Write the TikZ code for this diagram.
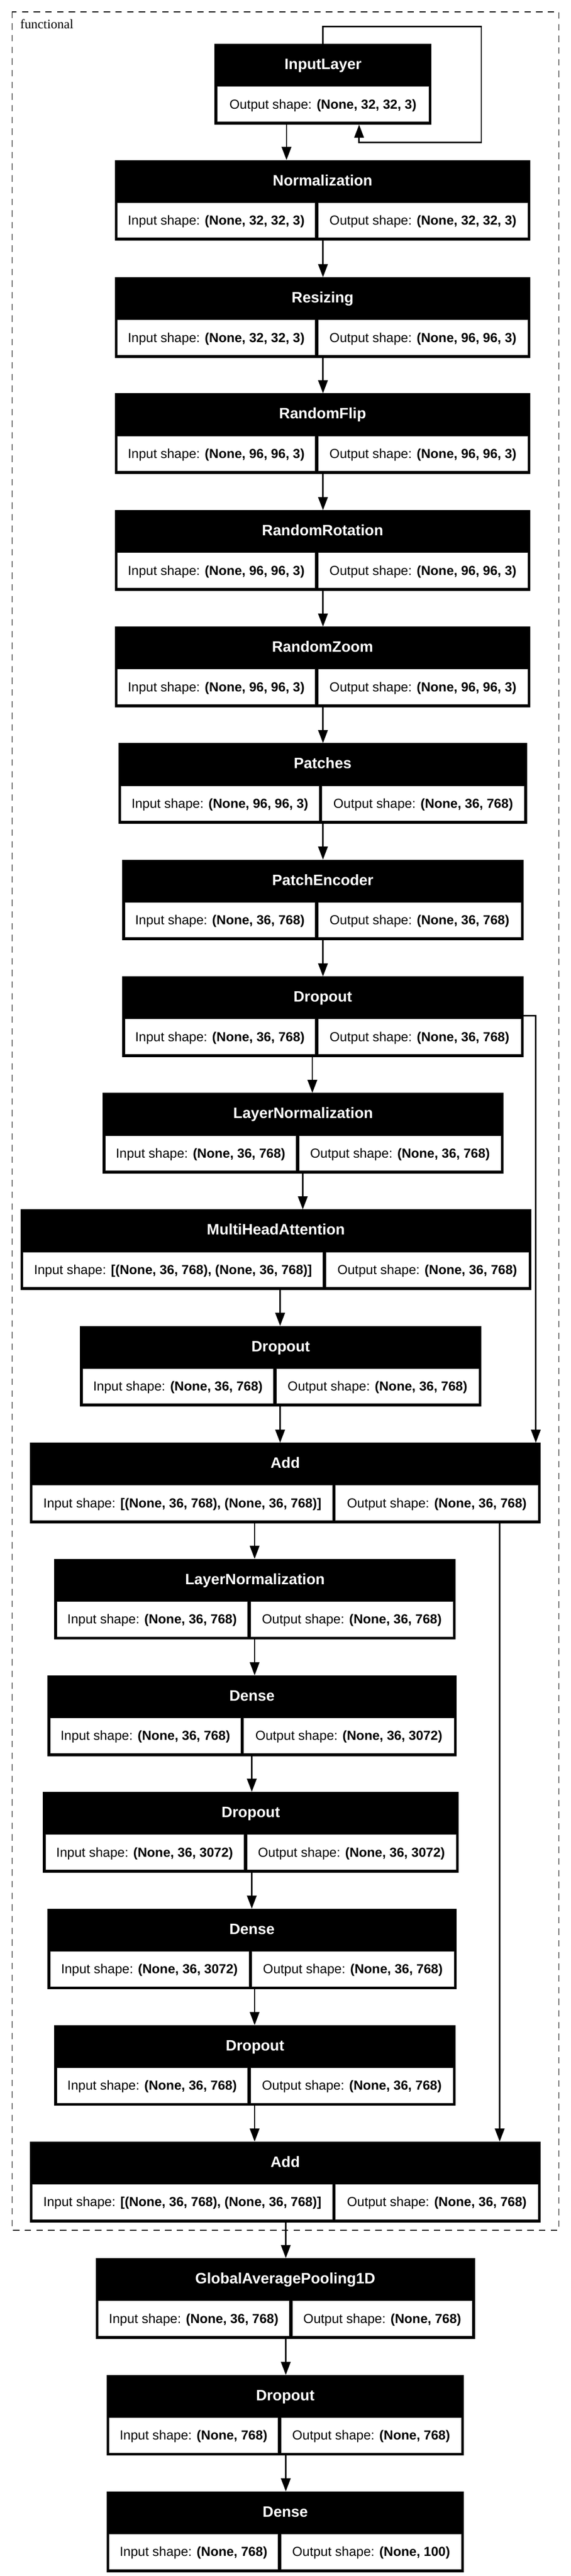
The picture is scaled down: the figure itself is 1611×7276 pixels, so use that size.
\documentclass[tikz,border=0pt]{standalone}
\usepackage{fontspec}
\setmainfont{Liberation Sans}
\newfontfamily\serifl{Liberation Serif}
\usetikzlibrary{arrows.meta}
\tikzset{
  layerbox/.style={fill=black, draw=none, minimum height=228pt, inner sep=0pt, outer sep=0pt},
  cellbox/.style={fill=white, draw=black!85, line width=1pt, minimum height=100pt, inner sep=0pt, outer sep=0pt, text height=27pt, text depth=0pt, font=\fontsize{37}{44}\selectfont},
  headtext/.style={text=white, font=\bfseries\fontsize{42.5}{50}\selectfont, inner sep=0pt, text height=30pt, text depth=0pt},
  edge/.style={draw=black, line width=4pt, line join=miter, -{Triangle[length=37pt,width=27pt]}},
  cluster/.style={draw=black, line width=2.5pt, dash pattern=on 18pt off 15pt},
  clusterlabel/.style={font=\serifl\fontsize{37}{44}\selectfont, inner sep=0pt, anchor=base west},
}
% #1 name, #2 left, #3 right, #4 top, #5 divider x, #6 title, #7 input text, #8 output text
\newcommand\layerbox[8]{%
  \pgfmathsetmacro\lyW{#3-#2}%
  \pgfmathsetmacro\lyCx{(#2+#3)/2}%
  \pgfmathsetmacro\lyHt{#4+57}%
  \pgfmathsetmacro\lyCt{#4+120}%
  \pgfmathsetmacro\lyLx{#2+7}%
  \pgfmathsetmacro\lyRx{#5+4}%
  \pgfmathsetmacro\lyLw{#5-4-#2-7}%
  \pgfmathsetmacro\lyRw{#3-7-#5-4}%
  \node[layerbox, minimum width=\lyW pt, anchor=north west] (#1) at (#2,#4) {};
  \node[headtext] (#1-t) at (\lyCx,\lyHt) {#6};
  \node[cellbox, minimum width=\lyLw pt, anchor=north west] (#1-in) at (\lyLx,\lyCt) {Input shape: \textbf{#7}};
  \node[cellbox, minimum width=\lyRw pt, anchor=north west] (#1-out) at (\lyRx,\lyCt) {Output shape: \textbf{#8}};
}
\newcommand\edgeat[3]{%
  \coordinate (ex-#1-#2) at (#3,0);
  \draw[edge] (#1.south -| ex-#1-#2) -- (#2.north -| ex-#1-#2);
}
\begin{document}
\begin{tikzpicture}[x=1pt,y=-1pt]
\useasboundingbox (0,0) rectangle (1611,7276);
\fill[white] (0,0) rectangle (1611,7276);

% cluster
\draw[cluster] (34,33) rectangle (1578,6300);
\node[clusterlabel] (clab) at (57,81) {functional};

% InputLayer
\node[layerbox, minimum width=612pt, anchor=north west] (inl) at (606,124) {};
\node[headtext] (inl-t) at (912,181) {InputLayer};
\node[cellbox, minimum width=598pt, anchor=north west] (inl-out) at (613,244) {Output shape: \textbf{(None, 32, 32, 3)}};

\layerbox{norm}{324}{1498}{452}{894}{Normalization}{(None, 32, 32, 3)}{(None, 32, 32, 3)}
\layerbox{res}{324}{1498}{783}{894}{Resizing}{(None, 32, 32, 3)}{(None, 96, 96, 3)}
\layerbox{flip}{324}{1498}{1111}{894}{RandomFlip}{(None, 96, 96, 3)}{(None, 96, 96, 3)}
\layerbox{rot}{324}{1498}{1441}{894}{RandomRotation}{(None, 96, 96, 3)}{(None, 96, 96, 3)}
\layerbox{zoom}{324}{1498}{1770}{894}{RandomZoom}{(None, 96, 96, 3)}{(None, 96, 96, 3)}
\layerbox{pat}{334}{1488}{2099}{905}{Patches}{(None, 96, 96, 3)}{(None, 36, 768)}
\layerbox{penc}{345}{1478}{2428}{894}{PatchEncoder}{(None, 36, 768)}{(None, 36, 768)}
\layerbox{dA}{345}{1478}{2758}{894}{Dropout}{(None, 36, 768)}{(None, 36, 768)}
\layerbox{lnA}{290}{1422}{3087}{840}{LayerNormalization}{(None, 36, 768)}{(None, 36, 768)}
\layerbox{mha}{58}{1500}{3416}{916}{MultiHeadAttention}{[(None, 36, 768), (None, 36, 768)]}{(None, 36, 768)}
\layerbox{dB}{226}{1359}{3745}{776}{Dropout}{(None, 36, 768)}{(None, 36, 768)}
\layerbox{addA}{84}{1527}{4075}{943}{Add}{[(None, 36, 768), (None, 36, 768)]}{(None, 36, 768)}
\layerbox{lnB}{153}{1287}{4403}{703}{LayerNormalization}{(None, 36, 768)}{(None, 36, 768)}
\layerbox{deA}{134}{1289}{4732}{684}{Dense}{(None, 36, 768)}{(None, 36, 3072)}
\layerbox{dC}{121}{1295}{5061}{693}{Dropout}{(None, 36, 3072)}{(None, 36, 3072)}
\layerbox{deB}{134}{1289}{5391}{707}{Dense}{(None, 36, 3072)}{(None, 36, 768)}
\layerbox{dD}{153}{1287}{5720}{703}{Dropout}{(None, 36, 768)}{(None, 36, 768)}
\layerbox{addB}{84}{1527}{6049}{943}{Add}{[(None, 36, 768), (None, 36, 768)]}{(None, 36, 768)}
\layerbox{gap}{270}{1341}{6378}{821}{GlobalAveragePooling1D}{(None, 36, 768)}{(None, 768)}
\layerbox{dE}{301}{1310}{6708}{789}{Dropout}{(None, 768)}{(None, 768)}
\layerbox{deC}{301}{1310}{7037}{789}{Dense}{(None, 768)}{(None, 100)}

% self loop on InputLayer
\coordinate (lpA) at (1359,75);
\coordinate (lpB) at (1014,402);
\draw[edge] (inl.north) |- (lpA) |- (lpB) -- (lpB |- inl.south);

% main chain
\edgeat{inl}{norm}{809}
\edgeat{norm}{res}{912}
\edgeat{res}{flip}{912}
\edgeat{flip}{rot}{912}
\edgeat{rot}{zoom}{912}
\edgeat{zoom}{pat}{912}
\edgeat{pat}{penc}{912}
\edgeat{penc}{dA}{912}
\edgeat{dA}{lnA}{882}
\edgeat{lnA}{mha}{855}
\edgeat{mha}{dB}{791}
\edgeat{dB}{addA}{791}
\edgeat{addA}{lnB}{719}
\edgeat{lnB}{deA}{719}
\edgeat{deA}{dC}{711}
\edgeat{dC}{deB}{711}
\edgeat{deB}{dD}{719}
\edgeat{dD}{addB}{719}
\edgeat{addB}{gap}{807}
\edgeat{gap}{dE}{807}
\edgeat{dE}{deC}{807}

% residual connections
\coordinate (skA) at (1513,2869);
\draw[edge] (dA.east |- skA) -| (addA.north -| skA);
\coordinate (skB) at (1411,0);
\draw[edge] (addA.south -| skB) -- (addB.north -| skB);
\end{tikzpicture}
\end{document}
